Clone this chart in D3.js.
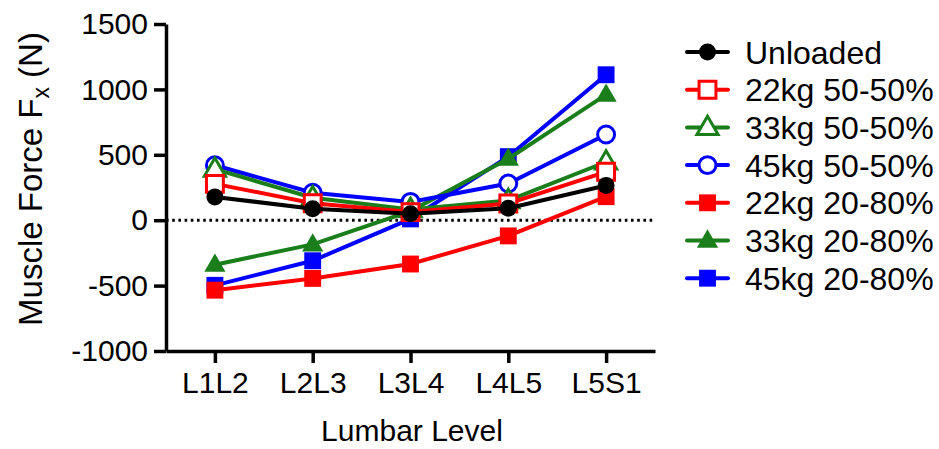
<!DOCTYPE html>
<html>
<head>
<meta charset="utf-8">
<script src="https://cdn.jsdelivr.net/npm/d3@7"></script>
<style>
  body { margin: 0; background: #fff; }
  svg { display: block; font-family: "Liberation Sans", Arial, sans-serif; }
</style>
</head>
<body>
<div id="chart"></div>
<script>
// Lumbar levels on the x axis
const levels = ["L1L2", "L2L3", "L3L4", "L4L5", "L5S1"];
const yTicks = [-1000, -500, 0, 500, 1000, 1500];

// Muscle force Fx (N)
const unloaded   = [178, 88, 50, 92, 265];
const kg22_5050  = [278, 130, 62, 128, 370];
const kg33_5050  = [390, 172, 82, 150, 445];
const kg45_5050  = [420, 210, 140, 280, 655];
const kg22_2080  = [-535, -445, -335, -120, 180];
const kg33_2080  = [-340, -185, 70, 470, 960];
const kg45_2080  = [-498, -310, 10, 486, 1112];

const red = "#ff0000", green = "#1a7f1a", blue = "#0000ff";

const series = [
  { name: "Unloaded",     values: unloaded,  color: "#000", shape: d3.symbolCircle,   filled: true },
  { name: "22kg 50-50%",  values: kg22_5050, color: red,    shape: d3.symbolSquare,   filled: false },
  { name: "33kg 50-50%",  values: kg33_5050, color: green,  shape: d3.symbolTriangle, filled: false },
  { name: "45kg 50-50%",  values: kg45_5050, color: blue,   shape: d3.symbolCircle,   filled: false },
  { name: "22kg 20-80%",  values: kg22_2080, color: red,    shape: d3.symbolSquare,   filled: true },
  { name: "33kg 20-80%",  values: kg33_2080, color: green,  shape: d3.symbolTriangle, filled: true },
  { name: "45kg 20-80%",  values: kg45_2080, color: blue,   shape: d3.symbolSquare,   filled: true }
];

const width = 939, height = 449;
const fontSize = 30;

const svg = d3.select("#chart").append("svg")
  .attr("width", width)
  .attr("height", height);

const x = d3.scalePoint().domain(levels).range([166, 655]).padding(0.5);
const y = d3.scaleLinear().domain([-1000, 1500]).range([351, 24]);

// symbol sizes per shape (area in px^2)
function symSize(s) {
  if (s.shape === d3.symbolSquare) return 285;
  if (s.shape === d3.symbolTriangle) return 195;
  return 225;
}

// zero reference line (dotted)
svg.append("line")
  .attr("x1", x.range()[0]).attr("x2", x.range()[1])
  .attr("y1", y(0)).attr("y2", y(0))
  .attr("stroke", "#000")
  .attr("stroke-width", 3)
  .attr("stroke-dasharray", "2.6,3.6");

// Axes (plain integers, ascii minus like the original)
const yAxis = svg.append("g")
  .attr("transform", `translate(${x.range()[0]},0)`)
  .call(d3.axisLeft(y).tickValues(yTicks).tickFormat(d => String(d))
    .tickSize(12).tickSizeOuter(0).tickPadding(6));

const xAxis = svg.append("g")
  .attr("transform", `translate(0,${y.range()[0]})`)
  .call(d3.axisBottom(x).tickSize(12).tickSizeOuter(0).tickPadding(9));

[yAxis, xAxis].forEach(g => {
  g.select(".domain").attr("stroke", "#000").attr("stroke-width", 3.5);
  g.selectAll(".tick line").attr("stroke", "#000").attr("stroke-width", 3.5);
  g.selectAll(".tick text")
    .attr("fill", "#000")
    .attr("font-size", fontSize)
    .attr("font-family", "'Liberation Sans', Arial, sans-serif");
});

// Lines + markers, drawn in reverse so Unloaded ends on top
const line = d3.line().x((d, i) => x(levels[i])).y(d => y(d));

series.slice().reverse().forEach(s => {
  const g = svg.append("g");
  g.append("path")
    .attr("d", line(s.values))
    .attr("fill", "none")
    .attr("stroke", s.color)
    .attr("stroke-width", 4);

  g.selectAll("path.marker")
    .data(s.values)
    .enter().append("path")
    .attr("class", "marker")
    .attr("d", d3.symbol().type(s.shape).size(symSize(s)))
    .attr("transform", (d, i) => {
      const dy = s.shape === d3.symbolTriangle ? 1 : 0;
      return `translate(${x(levels[i])},${y(d) + dy})`;
    })
    .attr("fill", s.filled ? s.color : "#fff")
    .attr("stroke", s.color)
    .attr("stroke-width", s.filled ? 0 : 3);
});

// Axis titles
svg.append("text")
  .attr("x", 412).attr("y", 441)
  .attr("text-anchor", "middle")
  .attr("font-size", fontSize)
  .text("Lumbar Level");

const yTitle = svg.append("text")
  .attr("transform", "translate(42,179) rotate(-90)")
  .attr("text-anchor", "middle")
  .attr("font-size", 33);
yTitle.append("tspan").text("Muscle Force F");
yTitle.append("tspan").attr("font-size", 23).attr("dy", "0.3em").text("x");
yTitle.append("tspan").attr("dy", "-0.2em").text("\u00a0(N)");

// Legend
const legend = svg.append("g").attr("transform", "translate(687,52)");
const rowGap = 37.7;
series.forEach((s, i) => {
  const row = legend.append("g").attr("transform", `translate(0,${i * rowGap})`);
  row.append("line")
    .attr("x1", 0).attr("x2", 41)
    .attr("stroke", s.color)
    .attr("stroke-width", 4)
    .attr("stroke-linecap", "round");
  row.append("path")
    .attr("d", d3.symbol().type(s.shape).size(symSize(s)))
    .attr("transform", `translate(20.5,${s.shape === d3.symbolTriangle ? 1 : 0})`)
    .attr("fill", s.filled ? s.color : "#fff")
    .attr("stroke", s.color)
    .attr("stroke-width", s.filled ? 0 : 3);
  row.append("text")
    .attr("x", 58)
    .attr("dy", "0.36em")
    .attr("font-size", 32)
    .attr("fill", "#000")
    .text(s.name);
});
</script>
</body>
</html>
